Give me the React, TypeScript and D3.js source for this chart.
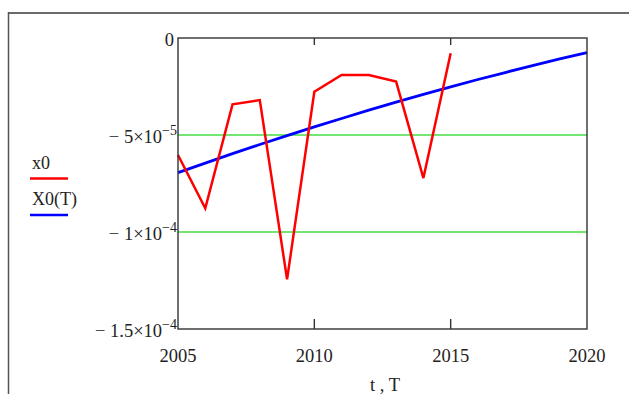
import React from "react";
import * as d3 from "d3";

const years: number[] = [2005, 2006, 2007, 2008, 2009, 2010, 2011, 2012, 2013, 2014, 2015];
const x0Values: number[] = [
  -6.03e-5, -8.78e-5, -3.42e-5, -3.2e-5, -1.244e-4, -2.77e-5, -1.91e-5, -1.91e-5, -2.25e-5, -7.22e-5, -7.9e-6,
];
const modelT: number[] = [
  2005, 2006, 2007, 2008, 2009, 2010, 2011, 2012, 2013, 2014, 2015, 2016, 2017, 2018, 2019, 2020,
];
const modelX0: number[] = [
  -6.94e-5, -6.45e-5, -5.96e-5, -5.49e-5, -5.03e-5, -4.58e-5, -4.15e-5, -3.72e-5, -3.31e-5, -2.91e-5,
  -2.52e-5, -2.14e-5, -1.78e-5, -1.42e-5, -1.08e-5, -7.5e-6,
];
const xTicks: number[] = [2005, 2010, 2015, 2020];
const innerXTicks: number[] = [2010, 2015];
const yTickValues: number[] = [0, -5e-5, -1e-4, -1.5e-4];
const yTickMain: string[] = ["0", "\u2212 5\u00d710", "\u2212 1\u00d710", "\u2212 1.5\u00d710"];
const yTickExp: string[] = ["", "\u22125", "\u22124", "\u22124"];
const gridValues: number[] = [-5e-5, -1e-4];
const legendLabels: string[] = ["x0", "X0(T)"];
const legendColors: string[] = ["#ff0000", "#0000ff"];

const W = 629;
const H = 394;
const L = 178, R = 587, T = 38, B = 329;
const FONT = "'Liberation Serif', 'Times New Roman', serif";

export default function App() {
  const x = d3.scaleLinear().domain([2005, 2020]).range([L, R]);
  const y = d3.scaleLinear().domain([-1.5e-4, 0]).range([B, T]);

  const line = d3
    .line<[number, number]>()
    .x((d) => x(d[0]))
    .y((d) => y(d[1]));

  const redPath = line(years.map((t, i) => [t, x0Values[i]] as [number, number])) || "";
  const bluePath = line(modelT.map((t, i) => [t, modelX0[i]] as [number, number])) || "";

  return (
    <svg
      width={W}
      height={H}
      style={{ position: "absolute", left: 0, top: 0, display: "block", background: "#fff" }}
    >
      {/* outer frame */}
      <line x1={8} x2={W} y1={13} y2={13} stroke="#6a6a6a" strokeWidth={2} />
      <line x1={8.5} x2={8.5} y1={12} y2={H} stroke="#555" strokeWidth={1.5} />

      {/* grid lines */}
      {gridValues.map((v) => (
        <line key={v} x1={L} x2={R} y1={y(v)} y2={y(v)} stroke="#44dd44" strokeWidth={1.7} />
      ))}

      {/* series */}
      <path d={bluePath} fill="none" stroke="#0000ff" strokeWidth={2.8} />
      <path d={redPath} fill="none" stroke="#ff0000" strokeWidth={2.5} strokeLinejoin="miter" />

      {/* plot frame */}
      <rect x={L} y={T} width={R - L} height={B - T} fill="none" stroke="#333" strokeWidth={1.4} />

      {/* inner ticks */}
      {innerXTicks.map((t) => (
        <g key={t}>
          <line x1={x(t)} x2={x(t)} y1={T} y2={T + 7} stroke="#333" strokeWidth={1.4} />
          <line x1={x(t)} x2={x(t)} y1={B} y2={B - 10} stroke="#333" strokeWidth={1.4} />
        </g>
      ))}

      {/* y tick labels */}
      {yTickValues.map((v, i) => (
        <text
          key={v}
          x={yTickExp[i] ? 177 : 174}
          y={y(v) + 8}
          textAnchor="end"
          fontFamily={FONT}
          fontSize={18.5}
          fill="#222"
        >
          {yTickMain[i]}
          {yTickExp[i] ? (
            <tspan fontSize={14} dy={-8}>
              {yTickExp[i]}
            </tspan>
          ) : null}
        </text>
      ))}

      {/* x tick labels */}
      {xTicks.map((t) => (
        <text
          key={t}
          x={x(t)}
          y={361.5}
          textAnchor="middle"
          fontFamily={FONT}
          fontSize={18.5}
          fill="#222"
        >
          {t}
        </text>
      ))}

      {/* x axis title */}
      <text x={385} y={390.5} textAnchor="middle" fontFamily={FONT} fontSize={18.5} fill="#222">
        t , T
      </text>

      {/* legend */}
      {legendLabels.map((lab, i) => (
        <g key={lab}>
          <text x={32} y={169 + i * 36} fontFamily={FONT} fontSize={18} fill="#222">
            {lab}
          </text>
          <line
            x1={30}
            x2={68}
            y1={178.5 + i * 36.5}
            y2={178.5 + i * 36.5}
            stroke={legendColors[i]}
            strokeWidth={2.5}
          />
        </g>
      ))}
    </svg>
  );
}
